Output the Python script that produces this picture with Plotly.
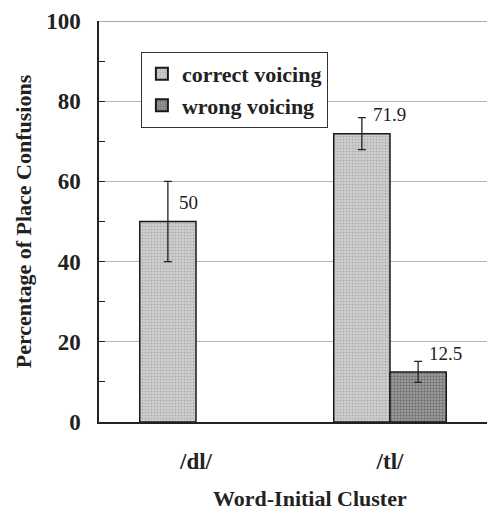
import plotly.graph_objects as go

categories = ["/dl/", "/tl/"]
correct_voicing = [50, 71.9]
wrong_voicing = [None, 12.5]
correct_err = [10, 4]
wrong_err = [None, 2.6]
y_ticks = [0, 20, 40, 60, 80, 100]
series_names = ["correct voicing", "wrong voicing"]

FONT = "Liberation Serif"

fig = go.Figure()
fig.add_trace(go.Bar(
    name=f"<b>{series_names[0]}</b>", x=categories, y=correct_voicing,
    marker=dict(color="#cacaca", line=dict(color="#1a1a1a", width=1.5),
                pattern=dict(shape=".", fgcolor="#a9a9a9", bgcolor="#cdcdcd",
                             size=3, solidity=0.25, fillmode="replace")),
    error_y=dict(type="data", array=correct_err, color="#222", thickness=1.3, width=4),
))
fig.add_trace(go.Bar(
    name=f"<b>{series_names[1]}</b>", x=categories, y=wrong_voicing,
    marker=dict(color="#8e8e8e", line=dict(color="#1a1a1a", width=1.5),
                pattern=dict(shape=".", fgcolor="#6a6a6a", bgcolor="#999999",
                             size=3, solidity=0.35, fillmode="replace")),
    error_y=dict(type="data", array=wrong_err, color="#222", thickness=1.3, width=4),
))

# value labels
bw = (1 - 0.42) / 2
for vals, off in [(correct_voicing, -bw / 2), (wrong_voicing, bw / 2)]:
    for ci, v in enumerate(vals):
        if v is None:
            continue
        fig.add_annotation(
            x=ci + off, y=v + 4.7, xref="x", yref="y", text=f"{v:g}",
            showarrow=False, xanchor="left", yanchor="middle", xshift=9,
            font=dict(family=FONT, size=19, color="#222"),
        )

fig.add_shape(type="line", xref="paper", yref="y", x0=0, x1=1, y0=100, y1=100,
              line=dict(color="#555", width=1.2))

fig.add_annotation(
    text="<b>Word-Initial Cluster</b>", xref="paper", yref="paper",
    x=0.545, y=-0.19, xanchor="center", yanchor="middle", showarrow=False,
    font=dict(family=FONT, size=22, color="#222"),
)

fig.update_layout(
    width=487, height=510,
    margin=dict(l=99, r=0, t=21, b=88),
    paper_bgcolor="white", plot_bgcolor="white",
    barmode="group", bargap=0.42, bargroupgap=0,
    showlegend=True,
    legend=dict(
        x=0.108, y=0.923, xanchor="left", yanchor="top",
        bgcolor="white", bordercolor="#333", borderwidth=1,
        font=dict(family=FONT, size=22, color="#222"),
        itemwidth=30, tracegroupgap=8, itemsizing="constant",
    ),
    font=dict(family=FONT, color="#222"),
)
fig.update_xaxes(
    range=[-0.5, 1.5], showline=True, linecolor="#222", linewidth=1.5,
    ticks="", tickfont=dict(family=FONT, size=23, color="#222", weight="bold"),
    ticklabelstandoff=18, showgrid=False,
)
fig.update_yaxes(
    range=[0, 100], tickvals=y_ticks, showline=True, linecolor="#222", linewidth=1.5,
    ticks="inside", ticklen=6, tickcolor="#222",
    minor=dict(dtick=10, ticks="inside", ticklen=6, tickcolor="#222", showgrid=False),
    showgrid=True, gridcolor="#b5b5b5", gridwidth=1,
    zeroline=False,
    tickfont=dict(family=FONT, size=23, color="#222", weight="bold"),
    ticklabelstandoff=12,
    title=dict(text="<b>Percentage of Place Confusions</b>", standoff=8,
               font=dict(family=FONT, size=22, color="#222")),
)
fig.write_html("out.html")
